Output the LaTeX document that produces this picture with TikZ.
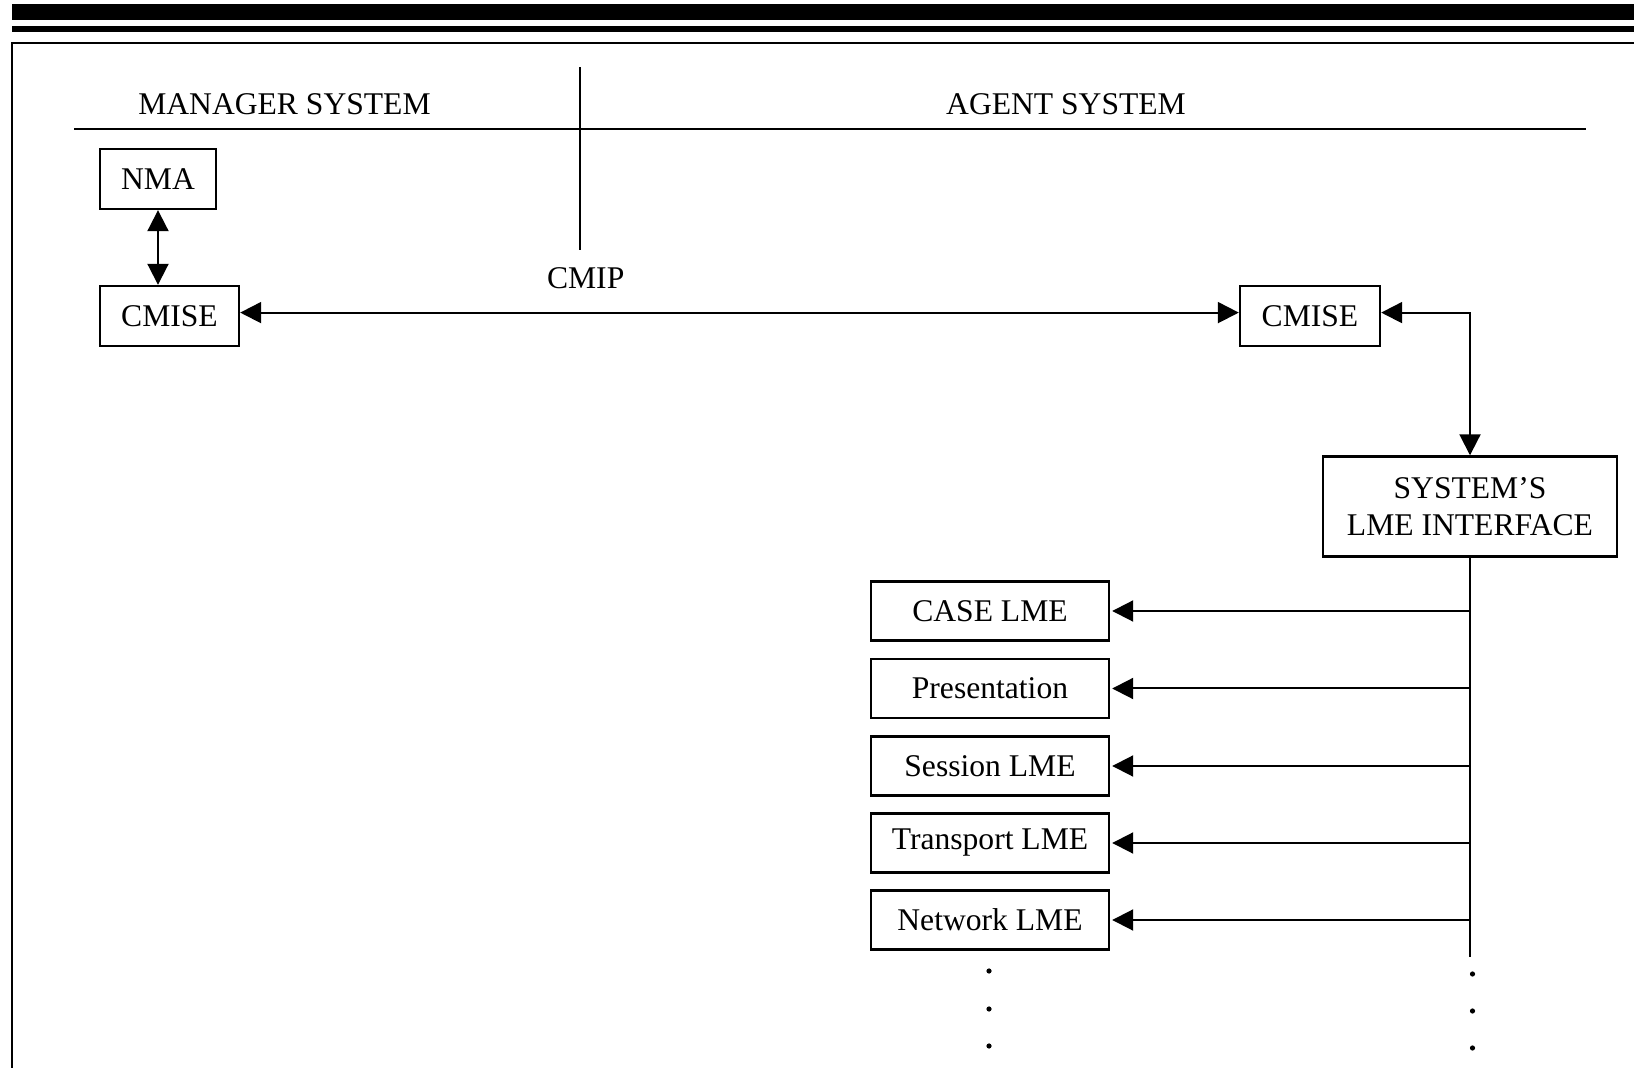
\documentclass[tikz,border=0pt]{standalone}
\usepackage{fontspec}
\setmainfont{Liberation Serif}
\usetikzlibrary{arrows.meta}
\begin{document}
\begin{tikzpicture}[x=0.5pt,y=-0.5pt,
  txt/.style={font=\fontsize{15.8}{18.5}\selectfont},
  box/.style={draw,line width=1.2pt,inner sep=0pt,txt},
  lbl/.style={inner sep=0pt,txt},
  lmebox/.style={box,minimum width=119pt,minimum height=29.5pt},
  conn/.style={line width=1pt},
  tip/.style={-{Triangle[length=10.5pt,width=10.5pt]}},
  both/.style={{Triangle[length=10.5pt,width=10.5pt]}-{Triangle[length=10.5pt,width=10.5pt]}},
  rule/.style={line width=1pt}
]
\useasboundingbox (0,0) rectangle (1634,1068);
% header bars and frame
\fill (12,4) rectangle (1640,20.5);
\fill (12,25.7) rectangle (1640,31.7);
\draw[line width=1.3pt] (12,1080) -- (12,43) -- (1640,43);
% separators
\draw[rule] (74,129.5) -- (1586,129.5);
\draw[rule] (579.5,67.5) -- (579.5,250);
% labels
\node[lbl] (mgr) at (284.5,104) {MANAGER SYSTEM};
\node[lbl] (agt) at (1066,104) {AGENT SYSTEM};
\node[lbl] (cmip) at (585.7,278) {CMIP};
% boxes
\node[box,minimum width=58pt,minimum height=30pt] (nma) at (158,179) {NMA};
\node[box,minimum width=69.5pt,minimum height=30pt] (cmL) at (169.5,316) {CMISE};
\node[box,minimum width=70pt,minimum height=30pt] (cmR) at (1310,316) {CMISE};
\node[box,minimum width=147pt,minimum height=50pt,align=center] (sys) at (1470,506.5) {SYSTEM’S\\LME INTERFACE};
\node[lmebox] (l1) at (990,611) {CASE LME};
\node[lmebox] (l2) at (990,688.5) {Presentation};
\node[lmebox] (l3) at (990,766) {Session LME};
\node[lmebox] (l4) at (990,843) {Transport LME};
\node[lmebox] (l5) at (990,920) {Network LME};
% connectors
\draw[conn,both] (nma.south) -- (nma.south |- cmL.north);
\draw[conn,both] ([yshift=1.7pt]cmL.east) -- ([yshift=1.7pt]cmR.west);
\draw[conn,both] ([yshift=1.7pt]cmR.east) -| (sys.north);
\coordinate (tend) at (1470,957);
\draw[conn] (sys.south) -- (tend);
\foreach \n in {l1,l2,l3,l4,l5}{
  \draw[conn,tip,shorten >=1pt] (sys.south |- \n.east) -- (\n.east);
}
% continuation dots
\foreach \y in {971,1009,1046}{\fill (989,\y) circle (2.6);}
\foreach \y in {974,1011,1048}{\fill (1472.5,\y) circle (2.6);}
\end{tikzpicture}
\end{document}
